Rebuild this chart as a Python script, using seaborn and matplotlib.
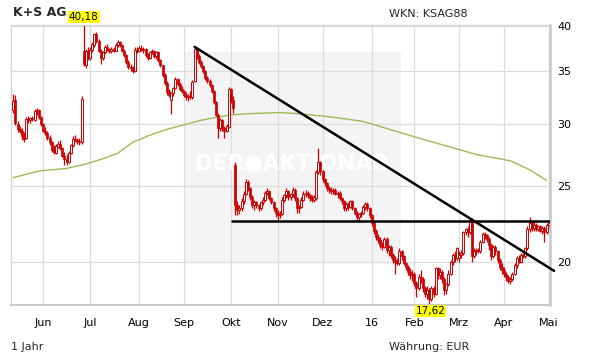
import numpy as np
import pandas as pd
import matplotlib
matplotlib.use("Agg")
import matplotlib.pyplot as plt
import seaborn as sns
from matplotlib.ticker import FixedLocator, NullLocator, FixedFormatter
from matplotlib.patches import Rectangle

# ---------------- data ----------------
start_date = "2015-05-12"
end_date = "2016-05-02"
holidays = ["2016-01-01", "2016-03-25", "2016-03-28"]

month_labels = ["Jun", "Jul", "Aug", "Sep", "Okt", "Nov", "Dez", "16", "Feb", "Mrz", "Apr", "Mai"]
y_ticks = [20, 25, 30, 35, 40]
y_tick_labels = ["20", "25", "30", "35", "40"]

opens = [
    31.2, 32.2, 30.0, 29.5, 29.4, 29.0, 28.8, 30.4, 30.3, 30.5, 30.3, 31.1, 31.2, 30.6,
    30.0, 29.4, 29.2, 28.8, 28.4, 27.8, 27.5, 28.0, 28.3, 27.9, 27.3, 27.0, 26.8, 27.5, 28.2, 28.7, 28.6, 28.5, 28.4, 37.2, 35.6, 37.1,
    36.4, 37.3, 37.8, 39.0, 38.3, 37.2, 36.4, 37.0, 37.6, 37.3, 37.1, 37.4, 37.2, 37.8, 38.2, 37.8, 37.2, 36.7, 36.0, 35.4, 35.3, 35.0, 37.3,
    37.1, 37.5, 37.3, 37.4, 36.7, 36.4, 37.0, 37.2, 36.6, 37.0, 36.2, 35.6, 34.6, 33.8, 33.0, 32.2, 32.8, 33.3, 34.2, 33.7, 33.2,
    33.0, 32.6, 32.4, 32.5, 32.4, 34.0, 37.4, 36.6, 36.0, 35.5, 35.0, 34.3, 34.0, 33.6, 33.0, 32.0, 30.8, 29.6, 30.3, 29.6, 29.4, 29.7,
    33.2, 32.2, 26.6, 23.6, 23.3, 23.4, 23.9, 24.4, 25.3, 24.8, 24.2, 23.6, 23.8, 23.6, 23.4, 23.8, 24.0, 24.5, 24.6, 24.1, 23.8, 23.4,
    23.1, 22.9, 23.0, 24.0, 24.3, 24.6, 24.2, 24.4, 24.7, 24.1, 23.4, 23.5, 24.0, 24.4, 24.5, 24.3, 24.1, 24.0, 24.1, 26.0, 26.8,
    26.1, 25.5, 25.2, 24.8, 24.7, 24.6, 24.7, 24.4, 24.5, 24.1, 23.9, 23.4, 23.7, 23.5, 23.9, 23.4, 23.1, 22.8, 23.0, 23.1, 23.5, 23.7, 23.4,
    22.9, 22.4, 21.9, 21.5, 21.3, 21.0, 20.9, 21.4, 20.7, 20.9, 20.4, 20.1, 20.0, 19.9, 20.6, 20.3, 19.9, 19.7, 19.4, 19.2,
    19.3, 18.8, 18.5, 19.1, 19.0, 18.5, 18.2, 18.4, 17.9, 18.5, 18.2, 19.6, 19.2, 19.4, 19.0, 18.4, 18.7, 19.3, 20.0, 20.4, 20.2,
    20.2, 20.4, 20.5, 21.8, 22.0, 21.8, 22.6, 20.3, 20.6, 20.7, 20.6, 21.2, 21.7, 21.6, 21.4, 21.0, 20.3, 20.9, 20.6, 20.1, 19.7,
    19.5, 19.3, 19.1, 18.9, 19.0, 19.3, 19.8, 20.2, 20.0, 20.4, 20.3, 20.8, 22.0, 22.4, 22.1, 22.3, 22.0, 22.2, 21.9, 22.1, 21.8,
    22.3,
]
highs = [
    32.7, 32.6, 30.2, 29.8, 29.6, 29.3, 30.6, 30.7, 30.6, 30.7, 31.3, 31.4, 31.3, 30.7,
    30.1, 29.7, 29.4, 29.0, 28.5, 28.2, 28.3, 28.5, 28.6, 28.0, 27.6, 27.4, 27.7, 28.3, 28.9, 29.0, 28.8, 28.8, 32.5, 40.18, 37.4, 37.6,
    37.6, 38.2, 39.2, 39.3, 38.5, 37.4, 37.2, 37.8, 37.9, 37.5, 37.6, 37.6, 38.0, 38.4, 38.3, 37.9, 37.4, 36.8, 36.2, 35.8, 35.5, 37.6, 37.6,
    37.7, 37.8, 37.6, 37.5, 36.9, 37.2, 37.4, 37.3, 37.2, 37.1, 36.3, 35.7, 34.8, 34.0, 33.2, 32.9, 33.4, 34.4, 34.3, 33.9, 33.5,
    33.1, 32.9, 32.7, 33.0, 34.1, 37.6, 37.5, 36.8, 36.2, 35.7, 35.1, 34.5, 34.2, 33.7, 33.1, 32.1, 31.0, 30.5, 30.4, 29.8, 30.0, 33.4,
    33.3, 32.5, 26.8, 23.9, 23.6, 24.1, 24.6, 25.5, 25.4, 24.9, 24.3, 24.0, 23.9, 23.7, 23.9, 24.2, 24.6, 24.8, 24.7, 24.2, 23.9, 23.5,
    23.3, 23.2, 24.2, 24.4, 24.8, 24.7, 24.5, 24.9, 24.8, 24.2, 23.6, 24.2, 24.6, 24.7, 24.6, 24.4, 24.3, 24.3, 26.2, 27.9, 26.9,
    26.2, 25.6, 25.3, 25.0, 24.9, 24.8, 24.8, 24.6, 24.6, 24.2, 24.0, 23.8, 23.8, 24.0, 24.0, 23.5, 23.2, 23.1, 23.2, 23.6, 23.8, 23.8, 23.5,
    23.0, 22.5, 22.0, 21.7, 21.5, 21.2, 21.5, 21.5, 21.0, 21.0, 20.5, 20.3, 20.2, 20.8, 20.7, 20.4, 20.0, 19.8, 19.6, 19.5,
    19.4, 18.9, 19.3, 19.5, 19.1, 18.6, 18.6, 18.5, 18.6, 18.6, 19.7, 19.7, 19.6, 19.5, 19.1, 18.8, 19.5, 20.1, 20.5, 20.6, 20.9,
    20.6, 20.7, 21.9, 22.1, 22.2, 22.8, 22.7, 20.8, 20.8, 20.8, 21.3, 21.8, 21.8, 21.7, 21.5, 21.1, 21.0, 21.0, 20.7, 20.2, 19.9,
    19.7, 19.4, 19.2, 19.1, 19.4, 19.9, 20.3, 20.4, 20.5, 20.5, 20.9, 22.2, 22.8, 22.5, 22.5, 22.4, 22.3, 22.3, 22.2, 22.2, 22.4,
    22.5,
]
lows = [
    31.0, 29.9, 29.3, 29.2, 28.6, 28.4, 28.7, 30.1, 30.1, 30.2, 30.2, 30.8, 30.4, 29.8,
    29.3, 29.0, 28.6, 28.2, 27.6, 27.4, 27.4, 27.9, 27.8, 27.2, 26.6, 26.6, 26.7, 27.4, 28.0, 28.4, 28.3, 28.2, 28.3, 35.5, 35.3, 36.2,
    36.2, 37.0, 37.6, 38.0, 37.0, 35.8, 36.2, 36.8, 37.1, 36.9, 36.9, 37.0, 37.1, 37.6, 37.6, 37.0, 36.5, 35.8, 35.2, 35.0, 34.8, 34.9, 36.9,
    37.0, 37.1, 36.9, 36.5, 36.2, 36.3, 36.8, 36.4, 36.3, 36.0, 35.4, 34.4, 33.6, 32.6, 32.4, 30.9, 32.5, 33.2, 33.5, 33.0, 32.8,
    32.4, 32.2, 32.1, 32.3, 32.3, 33.9, 36.3, 35.8, 35.3, 34.8, 34.1, 33.8, 33.4, 32.8, 31.8, 30.6, 28.8, 29.4, 29.4, 28.8, 29.3, 29.6,
    31.9, 31.0, 22.9, 22.9, 23.0, 23.2, 23.7, 24.3, 24.6, 24.0, 23.4, 23.3, 23.4, 23.2, 23.3, 23.6, 23.9, 24.3, 24.0, 23.7, 23.2, 22.8,
    22.5, 22.7, 22.9, 23.8, 24.1, 24.0, 24.0, 24.2, 23.9, 23.1, 23.1, 23.4, 23.9, 24.2, 24.1, 23.9, 23.8, 23.8, 24.0, 25.9, 25.8,
    25.3, 25.0, 24.6, 24.5, 24.4, 24.4, 24.3, 24.1, 24.0, 23.7, 23.2, 23.2, 23.3, 23.4, 23.3, 22.9, 22.6, 22.6, 22.8, 23.0, 23.3, 23.2, 22.7,
    22.2, 21.7, 21.3, 21.1, 20.8, 20.7, 20.8, 20.5, 20.3, 20.2, 19.9, 19.3, 19.8, 19.8, 20.1, 19.8, 19.5, 19.2, 19.0, 18.9,
    18.6, 18.0, 18.4, 18.8, 18.3, 18.0, 17.9, 17.62, 17.8, 18.0, 18.1, 19.0, 19.0, 18.8, 18.1, 18.2, 18.6, 19.2, 19.8, 20.0, 20.1,
    20.0, 20.2, 20.4, 21.6, 21.5, 21.7, 20.0, 20.2, 20.4, 20.5, 20.5, 21.1, 21.4, 21.2, 20.7, 20.1, 20.2, 20.4, 19.9, 19.5, 19.3,
    19.1, 18.9, 18.8, 18.7, 18.9, 19.2, 19.6, 19.9, 19.9, 20.2, 20.2, 20.7, 21.8, 21.9, 21.9, 21.9, 21.9, 21.8, 21.7, 21.2, 21.7,
    22.1,
]
closes = [
    32.1, 30.1, 29.5, 29.4, 28.9, 28.7, 30.4, 30.3, 30.5, 30.4, 31.1, 31.2, 30.6, 30.0,
    29.4, 29.2, 28.8, 28.4, 27.8, 27.6, 28.1, 28.3, 27.9, 27.3, 27.0, 26.8, 27.5, 28.2, 28.7, 28.6, 28.5, 28.4, 32.3, 35.8, 37.1, 36.5,
    37.3, 37.9, 39.0, 38.3, 37.2, 36.4, 37.0, 37.6, 37.3, 37.1, 37.4, 37.2, 37.8, 38.2, 37.8, 37.2, 36.7, 36.0, 35.4, 35.3, 35.0, 37.3, 37.1,
    37.5, 37.3, 37.4, 36.7, 36.4, 37.0, 37.2, 36.6, 37.0, 36.2, 35.6, 34.6, 33.8, 32.9, 32.6, 32.8, 33.3, 34.2, 33.7, 33.2, 33.0,
    32.6, 32.4, 32.5, 32.4, 33.9, 37.4, 36.6, 36.0, 35.5, 35.0, 34.3, 34.0, 33.6, 33.0, 32.0, 30.8, 29.6, 30.3, 29.6, 29.4, 29.8, 33.2,
    32.2, 31.4, 23.6, 23.3, 23.4, 23.9, 24.4, 25.3, 24.8, 24.2, 23.6, 23.8, 23.6, 23.4, 23.8, 24.0, 24.5, 24.6, 24.1, 23.8, 23.4, 23.1,
    22.9, 23.0, 24.0, 24.3, 24.6, 24.2, 24.4, 24.7, 24.1, 23.4, 23.5, 24.0, 24.4, 24.5, 24.3, 24.1, 24.0, 24.2, 26.0, 26.8, 26.1,
    25.5, 25.2, 24.8, 24.7, 24.6, 24.7, 24.4, 24.5, 24.1, 23.9, 23.4, 23.7, 23.5, 23.9, 23.4, 23.1, 22.8, 23.0, 23.1, 23.5, 23.7, 23.4, 22.9,
    22.4, 21.9, 21.5, 21.3, 21.0, 20.9, 21.4, 20.7, 20.9, 20.4, 20.1, 20.0, 19.9, 20.6, 20.3, 19.9, 19.7, 19.4, 19.2, 19.3,
    18.8, 18.5, 19.1, 19.0, 18.5, 18.2, 18.4, 17.9, 18.5, 18.2, 19.6, 19.2, 19.4, 19.0, 18.4, 18.7, 19.3, 20.0, 20.4, 20.2, 20.8,
    20.4, 20.5, 21.8, 22.0, 21.8, 22.6, 20.3, 20.6, 20.7, 20.6, 21.2, 21.7, 21.6, 21.4, 21.0, 20.3, 20.9, 20.6, 20.1, 19.7, 19.5,
    19.3, 19.1, 18.9, 19.0, 19.3, 19.8, 20.2, 20.0, 20.4, 20.3, 20.8, 22.0, 22.4, 22.1, 22.3, 22.0, 22.2, 21.9, 22.1, 21.8, 22.3,
    22.4,
]

# 200-day moving average, sampled at trading-day indices
ma_idx = [0, 12, 25, 33, 41, 49, 56, 64, 72, 80, 88, 96, 103, 111, 125, 133, 149, 164, 180, 195, 209, 217, 233, 242, 250]
ma_vals = [25.6, 26.1, 26.3, 26.6, 27.0, 27.5, 28.4, 29.0, 29.5, 29.9, 30.3, 30.6, 30.8, 30.9, 31.0, 30.9, 30.6, 30.2, 29.3,
           28.5, 27.8, 27.4, 26.9, 26.2, 25.4]

# trend lines (trading-day index, price)
down_x = [85, 253.5]
down_y = [37.6, 19.46]
flat_x = [102.4, 251.6]
flat_y = [22.55, 22.55]

high_label = "40,18"
low_label = "17,62"

# ---------------- figure ----------------
sns.set_style("white")
plt.rcParams["font.family"] = ["DejaVu Sans"]

W, H = 611, 364
fig = plt.figure(figsize=(W / 100, H / 100), dpi=100)
fig.patch.set_facecolor("white")
ax = fig.add_axes([10.5 / W, 1 - 305 / H, 539.5 / W, 280 / H])
ax.set_facecolor("white")
ax.set_yscale("log")

n = min(len(opens), len(highs), len(lows), len(closes))
o = np.array(opens[:n]); h = np.array(highs[:n]); l = np.array(lows[:n]); c = np.array(closes[:n])
x = np.arange(n)

dates = pd.bdate_range(start_date, end_date)
dates = dates[~dates.isin(pd.to_datetime(holidays))][:n]
month_key = dates.year * 12 + dates.month
first_idx = [i for i in range(1, len(dates)) if month_key[i] != month_key[i - 1]]

red = "#cc0000"
# watermark box
ax.add_patch(Rectangle((0.3216, 0.154), 0.402, 0.748, transform=ax.transAxes,
                       facecolor="#f4f4f4", edgecolor="none", zorder=0.5))
ax.text(0.522, 0.512, "DER\u25CFAKTIONÄR", transform=ax.transAxes, ha="center", va="center",
        fontsize=15.5, fontweight="bold", color="white", zorder=0.6)

# wicks and bodies
ax.vlines(x, l, h, color=red, lw=0.9, zorder=2)
up = c >= o
bottoms = np.minimum(o, c)
heights = np.maximum(np.abs(c - o), 0.06)
ax.bar(x[up], heights[up], bottom=bottoms[up], width=0.95, color="white",
       edgecolor=red, linewidth=0.7, zorder=3)
ax.bar(x[~up], heights[~up], bottom=bottoms[~up], width=0.95, color=red,
       edgecolor=red, linewidth=0.5, zorder=3)

# moving average & trend lines
sns.lineplot(x=ma_idx, y=ma_vals, ax=ax, color="#9bbb59", lw=1.0, zorder=2.5)
sns.lineplot(x=down_x, y=down_y, ax=ax, color="black", lw=1.8, zorder=4, clip_on=False)
sns.lineplot(x=flat_x, y=flat_y, ax=ax, color="black", lw=1.8, zorder=4)

ax.set_xlim(-1.3, 251.6)
ax.set_ylim(17.6, 40.1)

ax.xaxis.set_major_locator(FixedLocator(first_idx))
ax.xaxis.set_major_formatter(FixedFormatter(month_labels[:len(first_idx)]))
ax.yaxis.set_major_locator(FixedLocator(y_ticks))
ax.yaxis.set_major_formatter(FixedFormatter(y_tick_labels))
ax.yaxis.set_minor_locator(NullLocator())
ax.yaxis.tick_right()
ax.tick_params(axis="x", length=0, pad=9.5, labelsize=8, labelcolor="black")
ax.tick_params(axis="y", which="both", length=0, pad=5, labelsize=8, labelcolor="black",
               right=True, left=False, labelright=True, labelleft=False)
ax.set_xlabel(""); ax.set_ylabel("")
ax.grid(True, color="#dcdcdc", lw=0.9, zorder=1)
ax.set_axisbelow(True)

for side, col, lw in [("left", "#d4d4d4", 0.9), ("top", "#d4d4d4", 0.9),
                      ("bottom", "#c8c8c8", 1.4), ("right", "#c8c8c8", 1.8)]:
    ax.spines[side].set_visible(True)
    ax.spines[side].set_color(col)
    ax.spines[side].set_linewidth(lw)

# yellow high / low labels
hi_i = int(np.argmax(h)); lo_i = int(np.argmin(l))
ax.annotate(high_label, xy=(hi_i, h[hi_i]), xytext=(0, 1.5), textcoords="offset points",
            ha="center", va="bottom", fontsize=7.5, color="black",
            bbox=dict(boxstyle="square,pad=0.1", fc="#ffff00", ec="none"),
            annotation_clip=False, zorder=6)
ax.annotate(low_label, xy=(lo_i, l[lo_i]), xytext=(1, -0.8), textcoords="offset points",
            ha="center", va="top", fontsize=7.5, color="black",
            bbox=dict(boxstyle="square,pad=0.08", fc="#ffff00", ec="none"),
            annotation_clip=False, zorder=6)

# header / footer texts
fig.text(13 / W, 1 - 12 / H, "K+S AG", fontsize=9, fontweight="bold", va="center", ha="left")
fig.text(389 / W, 1 - 14 / H, "WKN: KSAG88", fontsize=8, va="center", ha="left")
fig.text(11 / W, 1 - 347 / H, "1 Jahr", fontsize=8, va="center", ha="left")
fig.text(389 / W, 1 - 347 / H, "Währung: EUR", fontsize=8, va="center", ha="left")

fig.savefig("out.png", dpi=100, facecolor="white")
